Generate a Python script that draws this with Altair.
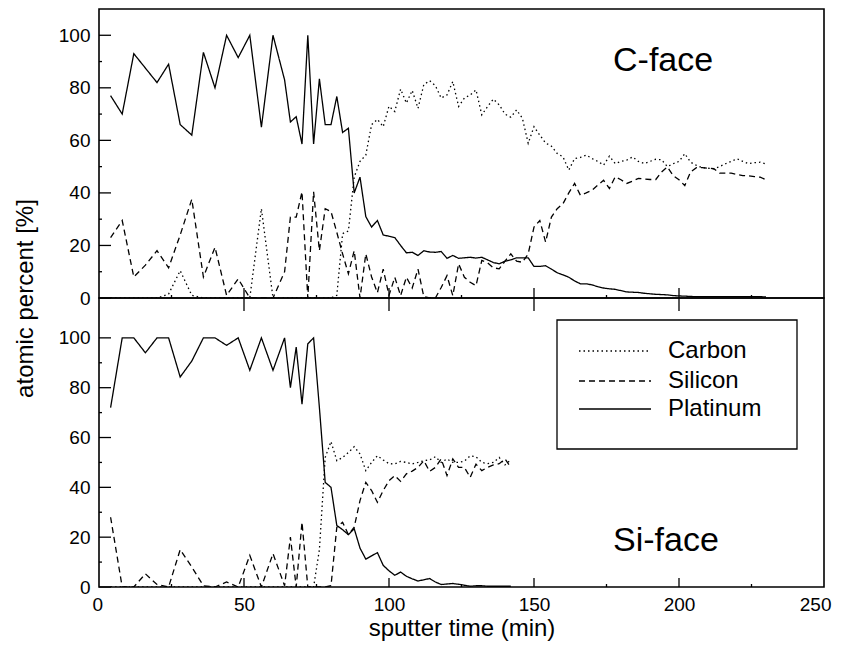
import altair as alt
import pandas as pd

# ---------------- data ----------------
t_top = [4, 8, 12, 16, 20, 24, 28, 32, 36, 40, 44, 48, 52, 56, 60, 64, 66, 68, 70, 72,
         74, 76, 78, 80, 82, 84, 86, 88, 90, 92, 94, 96, 98, 100, 102, 104, 106, 108, 110, 112,
         114, 116, 118, 120, 122, 124, 126, 128, 130, 132, 134, 136, 138, 140, 142, 144, 146, 148, 150, 152,
         154, 156, 158, 160, 162, 164, 166, 168, 170, 172, 174, 176, 178, 180, 182, 184, 186, 188, 190, 192,
         194, 196, 198, 200, 202, 204, 206, 208, 210, 212, 214, 216, 218, 220, 222, 224, 226, 228, 230]
carbon_top = [0, 0, 0, 0, 0, 1.5, 10.4, 1, 0, 0, 0, 0, 0, 34, 0, 0, 0, 0, 0, 0,
              0, 0, 0, 0, 1, 24.5, 25.5, 46, 52, 54.4, 66, 68, 65.2, 73, 71, 79.5, 74.2, 79, 72.2, 81.2,
              82.7, 80.8, 76.1, 77.3, 82.4, 72.9, 76.1, 77.3, 79.2, 69.7, 72.9, 75.7, 73.5, 70, 68.8, 71.6, 68.4, 58.9, 65.2, 62,
              59, 57.8, 55, 53.7, 48.7, 53.1, 53.5, 54.4, 53.1, 52, 50.6, 54, 51.2, 52, 52.5, 53.7, 52, 51.2, 52, 52.8,
              52.6, 50, 51.1, 52, 54.9, 51.7, 50.5, 49.6, 49.4, 49.2, 50, 51.1, 52, 53, 52, 51.1, 51.5, 51.7, 51]
silicon_top = [23, 29.5, 8, 12.5, 18, 11.5, 24, 37.6, 8, 19.3, 1, 7.3, 0, 0, 0, 10, 30.8, 30.8, 40.4, 0,
               40.4, 18, 34, 32.9, 25, 16.8, 9.2, 18, 0, 16.8, 8, 2, 11, 1, 7.9, 0.9, 7.9, 3.8, 11, 0.5,
               0, 0, 4, 8.5, 0.9, 13, 7.9, 6, 4.7, 14.3, 13.4, 11.5, 11.1, 14, 16.8, 14, 13.6, 16.8, 27, 29.5,
               21.3, 30.8, 34, 35.9, 40, 43.6, 39.1, 40, 41, 43, 44.8, 41.7, 46.1, 45, 43.6, 44.5, 45.5, 45.3, 45.1, 45.1,
               48, 49.9, 46.6, 45, 42.8, 48, 49.6, 49.6, 49.4, 49.2, 47.5, 47.5, 47.5, 47, 46.6, 46.5, 46.2, 46, 45]
platinum_top = [77, 70, 93, 87.5, 82, 89, 66, 62, 93.5, 80, 100, 91.5, 100, 65, 100, 83, 67, 69, 58.6, 100,
                58.6, 83.4, 66, 66, 76.7, 63, 64.6, 40, 46, 31, 27, 29.5, 24, 23.5, 23, 20, 17.2, 17.4, 16.2, 18,
                17.5, 17.4, 17.7, 15.1, 16.2, 15.1, 15.3, 15.5, 15.2, 15.5, 14.5, 13.5, 13, 14, 14.5, 15.3, 15.3, 15.3, 12, 12,
                12.3, 11, 9.6, 8.8, 7.9, 6.5, 5.4, 5.4, 5, 4.3, 3.8, 3.5, 3.3, 2.8, 2.3, 2.2, 2.1, 1.8, 1.6, 1.4,
                1.3, 1.2, 0.9, 0.8, 0.7, 0.6, 0.5, 0.5, 0.5, 0.5, 0.5, 0.5, 0.5, 0.5, 0.5, 0.5, 0.5, 0.5, 0.4]

t_bot = [4, 8, 12, 16, 20, 24, 28, 32, 36, 40, 44, 48, 52, 56, 60, 64, 66, 68, 70, 72,
         74, 76, 78, 80, 82, 84, 86, 88, 90, 92, 94, 96, 98, 100, 102, 104, 106, 108, 110, 112,
         114, 116, 118, 120, 122, 124, 126, 128, 130, 132, 134, 136, 138, 140, 142]
carbon_bot = [0, 0, 0, 0, 0, 0, 0, 0, 0, 0, 0, 0, 0, 0, 0, 0, 0, 0, 0, 0,
              0, 15, 52, 58.4, 50.7, 52, 54, 56.3, 53.4, 46.7, 50, 52.7, 51, 49.5, 49.4, 50.4, 50, 49.4, 50, 50.7,
              51, 52.3, 50, 51.4, 50, 50, 50.5, 52.7, 52.3, 50, 49.5, 50, 52, 49, 51]
silicon_bot = [28, 0, 0, 5.3, 1, 0, 15, 8, 0.5, 0, 2, 0, 12.7, 0, 13.4, 0.5, 20, 0, 26, 0,
               0, 0, 0, 0.5, 24, 26, 21, 24, 34.7, 42, 38.7, 34, 38.7, 42.7, 44.7, 42.4, 45.4, 46.5, 48, 50.7,
               46.4, 48, 51.4, 44.7, 51.4, 48, 48, 44, 49.3, 46.7, 48, 49, 49.5, 51.4, 48]
platinum_bot = [72, 100, 100, 94, 100, 100, 84.3, 90.7, 100, 100, 97, 100, 87, 100, 87, 100, 80, 96.3, 73.4, 97.6,
                100, 72, 42, 40, 24.7, 23, 21, 23.4, 15.6, 11.2, 12.5, 13.8, 8.7, 6.5, 4.7, 6, 4.3, 3.3, 2.4, 2.9,
                3.4, 2, 1, 1.2, 1.4, 1.1, 0.7, 0.3, 0.5, 0.5, 0.3, 0.3, 0.3, 0.3, 0.3]

elements = ["Carbon", "Silicon", "Platinum"]
x_major = [50, 100, 150, 200]
x_minor = [25, 75, 125, 175, 225]
x_labels = [0, 50, 100, 150, 200, 250]
y_major = [0, 20, 40, 60, 80, 100]
y_minor = [10, 30, 50, 70, 90]

# ---------------- styling ----------------
FONT = "Liberation Sans"
W = 725
H_TOP = 289
H_BOT = 289
DASHES = [[1.5, 3], [6, 4], [1, 0]]
LW = 1.3


def long_frame(t, c, si, pt):
    rows = []
    for name, vals in zip(elements, (c, si, pt)):
        for ti, v in zip(t, vals):
            rows.append({"t": ti, "v": v, "el": name})
    return pd.DataFrame(rows)


xs = alt.Scale(domain=[0, 250], nice=False, zero=False)


def rule_layer(vals):
    return alt.Chart(pd.DataFrame({"v": vals})).mark_rule(color="black", strokeWidth=LW)


def panel(df, ymax, h, label, label_y, bottom, y_title):
    ys = alt.Scale(domain=[0, ymax], nice=False)
    if bottom:
        xaxis = alt.Axis(values=x_labels, ticks=False, domain=False, grid=False,
                         labelFontSize=19, labelFont=FONT, labelPadding=8,
                         labelFlush=True, labelFlushOffset=7,
                         title="sputter time (min)", titleFontSize=24, titleFont=FONT,
                         titleFontWeight="normal", titlePadding=2, labelColor="black",
                         titleColor="black")
    else:
        xaxis = None
    if y_title:
        yaxis = alt.Axis(values=y_major, ticks=False, domain=False, grid=False,
                         labelFontSize=19, labelFont=FONT, labelPadding=9, labelColor="black",
                         labelFlush=False,
                         title="atomic percent [%]", titleFontSize=24, titleFont=FONT,
                         titleFontWeight="normal", titleColor="black", titleX=-74,
                         titleY=h, titleAlign="center", titleBaseline="middle", titleAngle=270)
    else:
        yaxis = alt.Axis(values=y_major, ticks=False, domain=False, grid=False,
                         labelFontSize=19, labelFont=FONT, labelPadding=9, labelColor="black",
                         labelFlush=False, title=None)

    def X(f):
        return alt.X(f, scale=xs, axis=xaxis)

    def Y(f):
        return alt.Y(f, scale=ys, axis=yaxis)

    lines = alt.Chart(df).mark_line(color="black", strokeWidth=LW, clip=True).encode(
        x=X("t:Q"),
        y=Y("v:Q"),
        strokeDash=alt.StrokeDash("el:N", scale=alt.Scale(domain=elements, range=DASHES),
                                  legend=None),
        order="t:Q",
    )
    ymaj = rule_layer(y_major).encode(y=Y("v:Q"), x=alt.value(0), x2=alt.value(12))
    ymin = rule_layer(y_minor).encode(y=Y("v:Q"), x=alt.value(0), x2=alt.value(3))
    if bottom:
        xmaj = rule_layer(x_major).encode(x=X("v:Q"), y=alt.value(h), y2=alt.value(h - 9))
        xmaj2 = rule_layer(x_major).encode(x=X("v:Q"), y=alt.value(0), y2=alt.value(13))
        xmin = rule_layer(x_minor).encode(x=X("v:Q"), y=alt.value(h), y2=alt.value(h - 3))
        ticks = [xmaj, xmaj2, xmin]
    else:
        xmaj = rule_layer(x_major).encode(x=X("v:Q"), y=alt.value(h), y2=alt.value(h - 10))
        xmin = rule_layer(x_minor).encode(x=X("v:Q"), y=alt.value(h), y2=alt.value(h - 3))
        ticks = [xmaj, xmin]

    txt = alt.Chart(pd.DataFrame({"s": [label]})).mark_text(
        align="left", baseline="alphabetic", fontSize=34, font=FONT, color="black"
    ).encode(text="s:N", x=alt.value(514), y=alt.value(label_y))

    layers = [lines, ymaj, ymin] + ticks + [txt]

    if bottom:
        box = alt.Chart(pd.DataFrame({"b": [1]})).mark_rect(
            fillOpacity=0, stroke="black", strokeWidth=LW, fill="white"
        ).encode(x=alt.value(458), x2=alt.value(698), y=alt.value(22), y2=alt.value(151))
        layers.append(box)
        leg_y = [53, 83, 111]
        for name, dash, yy in zip(elements, DASHES, leg_y):
            sym = alt.Chart(pd.DataFrame({"s": [name]})).mark_rule(
                color="black", strokeWidth=LW, strokeDash=dash
            ).encode(x=alt.value(480), x2=alt.value(552), y=alt.value(yy))
            lab = alt.Chart(pd.DataFrame({"s": [name]})).mark_text(
                align="left", baseline="middle", fontSize=24, font=FONT, color="black"
            ).encode(text="s:N", x=alt.value(569), y=alt.value(yy))
            layers += [sym, lab]

    return alt.layer(*layers).properties(width=W, height=h)


top = panel(long_frame(t_top, carbon_top, silicon_top, platinum_top), 110, H_TOP,
            "C-face", 62, bottom=False, y_title=True)
bot = panel(long_frame(t_bot, carbon_bot, silicon_bot, platinum_bot), 116, H_BOT,
            "Si-face", 253, bottom=True, y_title=False)

chart = alt.vconcat(top, bot, spacing=0, bounds="flush").properties(
    padding={"left": 4, "top": 0, "right": 0, "bottom": 5}
).configure(background="white").configure_view(stroke="black", strokeWidth=1.6)

chart.save("out.html", embed_options={"renderer": "svg", "actions": False})
